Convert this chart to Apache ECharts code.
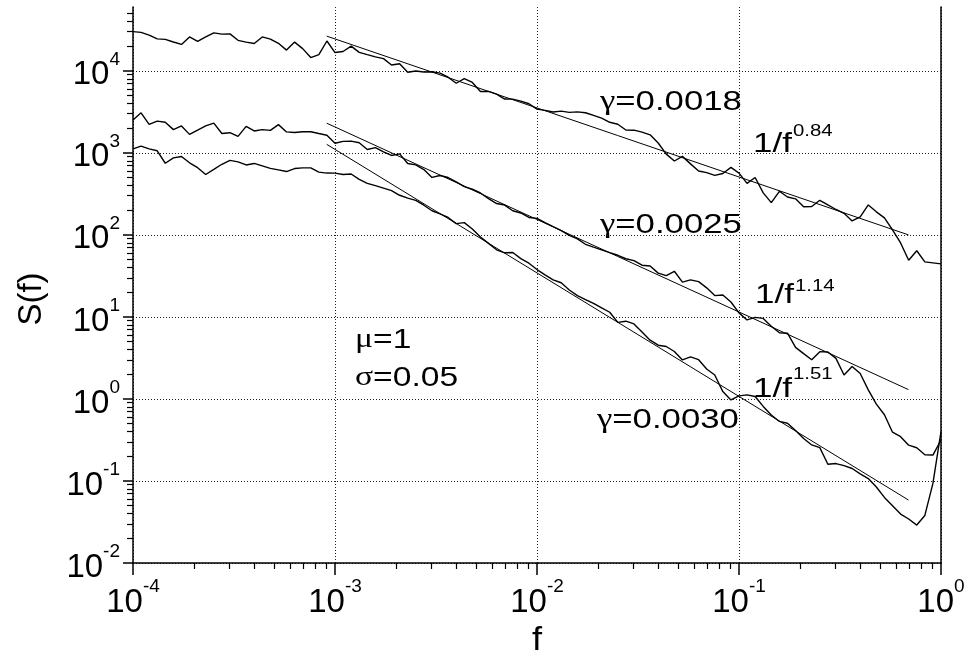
<!DOCTYPE html>
<html>
<head>
<meta charset="utf-8">
<script src="https://cdn.jsdelivr.net/npm/echarts@6/dist/echarts.min.js"></script>
<style>
  html, body { margin: 0; padding: 0; background: #fff; }
  #chart { width: 968px; height: 659px; }
</style>
</head>
<body>
<div id="chart"></div>
<script>
// frequency grid shared by the three spectra (0.04 decade steps)
const freq = [
  1.000e-4, 1.096e-4, 1.202e-4, 1.318e-4, 1.445e-4, 1.585e-4, 1.738e-4, 1.905e-4, 2.089e-4, 2.291e-4,
  2.512e-4, 2.754e-4, 3.020e-4, 3.311e-4, 3.631e-4, 3.981e-4, 4.365e-4, 4.786e-4, 5.248e-4, 5.754e-4,
  6.310e-4, 6.918e-4, 7.586e-4, 8.318e-4, 9.120e-4,
  1.000e-3, 1.096e-3, 1.202e-3, 1.318e-3, 1.445e-3, 1.585e-3, 1.738e-3, 1.905e-3, 2.089e-3, 2.291e-3,
  2.512e-3, 2.754e-3, 3.020e-3, 3.311e-3, 3.631e-3, 3.981e-3, 4.365e-3, 4.786e-3, 5.248e-3, 5.754e-3,
  6.310e-3, 6.918e-3, 7.586e-3, 8.318e-3, 9.120e-3,
  1.000e-2, 1.096e-2, 1.202e-2, 1.318e-2, 1.445e-2, 1.585e-2, 1.738e-2, 1.905e-2, 2.089e-2, 2.291e-2,
  2.512e-2, 2.754e-2, 3.020e-2, 3.311e-2, 3.631e-2, 3.981e-2, 4.365e-2, 4.786e-2, 5.248e-2, 5.754e-2,
  6.310e-2, 6.918e-2, 7.586e-2, 8.318e-2, 9.120e-2,
  1.000e-1, 1.096e-1, 1.202e-1, 1.318e-1, 1.445e-1, 1.585e-1, 1.738e-1, 1.905e-1, 2.089e-1, 2.291e-1,
  2.512e-1, 2.754e-1, 3.020e-1, 3.311e-1, 3.631e-1, 3.981e-1, 4.365e-1, 4.786e-1, 5.248e-1, 5.754e-1,
  6.310e-1, 6.918e-1, 7.586e-1, 8.318e-1, 9.120e-1,
  1.000
];

// gamma = 0.0018
const specA = [
  30100, 29400, 27300, 24550, 24200, 22450, 21000, 25900, 22900, 25900,
  29000, 28000, 28200, 23550, 22400, 21500, 25900, 24400, 21650, 17900,
  22400, 18650, 14500, 15750, 23100, 16700, 17200, 20000, 16800, 15750,
  14800, 14100, 11800, 12200, 9620, 9950, 9670, 9730, 9370, 8360,
  7060, 8050, 7220, 5600, 5620, 5210, 4530, 4520, 4280, 3970,
  3410, 3300, 3150, 3230, 3120, 3160, 3080, 2860, 2650, 2360,
  2230, 1900, 1890, 1790, 1660, 1320, 965, 796, 906, 734,
  600, 575, 532, 561, 665, 567, 424, 501, 325, 247,
  340, 290, 275, 220, 222, 264, 232, 204, 183, 148,
  166, 232, 191, 161, 115, 79.8, 49.1, 64.0, 46.9, 45.6,
  44.3
];

// gamma = 0.0025
const specB = [
  2520, 3080, 2230, 2440, 2360, 1920, 2130, 1680, 1890, 2130,
  2300, 1720, 1760, 1590, 2100, 1850, 1920, 1880, 2210, 1800,
  1770, 1810, 1810, 1720, 1640, 1310, 1380, 1390, 1330, 1100,
  1160, 1030, 930, 973, 743, 714, 626, 502, 530, 500,
  444, 387, 360, 324, 277, 241, 231, 197, 185, 163,
  159, 141, 126, 113, 98.6, 89.6, 76.8, 70.8, 65.6, 60.8,
  56.4, 51.2, 48.6, 42.7, 41.8, 34.2, 31.9, 36.0, 26.6, 28.3,
  26.9, 22.6, 18.2, 18.5, 15.2, 11.2, 9.19, 9.86, 9.59, 7.71,
  6.40, 6.33, 4.25, 3.57, 3.01, 3.77, 3.74, 3.12, 1.96, 2.49,
  2.04, 1.29, 0.865, 0.641, 0.393, 0.347, 0.273, 0.254, 0.209, 0.207,
  0.316
];

// gamma = 0.0030
const specC = [
  1120, 1210, 1120, 1060, 747, 869, 904, 757, 660, 545,
  629, 726, 811, 776, 712, 743, 694, 647, 621, 592,
  644, 656, 656, 583, 567, 566, 545, 553, 475, 425,
  398, 371, 346, 304, 281, 264, 230, 197, 180, 163,
  137, 141, 118, 94.2, 78.7, 65.8, 60.5, 61.0, 51.3, 45.2,
  37.8, 32.5, 28.3, 26.1, 21.3, 18.2, 16.3, 14.6, 12.9, 11.4,
  8.57, 8.87, 8.22, 6.56, 5.20, 4.52, 4.36, 3.79, 2.99, 3.25,
  3.01, 2.32, 1.96, 1.23, 0.973, 1.09, 1.12, 1.07, 0.811, 0.638,
  0.532, 0.506, 0.412, 0.329, 0.275, 0.255, 0.160, 0.163, 0.154, 0.142,
  0.122, 0.107, 0.0845, 0.0630, 0.0499, 0.0395, 0.0344, 0.0290, 0.0380, 0.0933,
  0.399
];

// power-law fits: end points
const fitFreq = [9.1e-4, 0.69];
const fitA = [26500, 100];   // 1/f^0.84
const fitB = [2300, 1.3];    // 1/f^1.14
const fitC = [1270, 0.0586]; // 1/f^1.51

// axis decades (exponents of 10)
const xDecades = [-4, -3, -2, -1, 0];
const yDecades = [-2, -1, 0, 1, 2, 3, 4];
const yTop = 60000;

const FONT = 'Liberation Sans, Arial, sans-serif';
const GREEK = 'Liberation Serif, serif';
const yMin = -2, yMax = Math.log10(yTop);

function minorTicks(from, to, top) {
  const out = [];
  for (let d = from; d < to; d++) {
    for (let m = 2; m <= 9; m++) {
      const v = d + Math.log10(m);
      if (v < top) out.push(v);
    }
  }
  return out;
}

const pow10Label = {
  formatter: (v) => '{b|10}{s|' + v + '}',
  rich: {
    b: { fontSize: 33, fontFamily: FONT, color: '#000', padding: [9, 0, 0, 0] },
    s: { fontSize: 19, fontFamily: FONT, color: '#000', verticalAlign: 'top' }
  }
};

const toPairs = (fs, ss) => fs.map((f, i) => [Math.log10(f), Math.log10(ss[i])]);

var chartDom = document.getElementById('chart');
var myChart = echarts.init(chartDom);

const lineSeries = (data, width) => ({
  type: 'line',
  data: data,
  showSymbol: false,
  silent: true,
  lineStyle: { color: '#000', width: width },
  xAxisIndex: 0,
  yAxisIndex: 0
});

const gridLine = { show: true, lineStyle: { color: '#222', width: 1, type: [1, 2] } };

// stretched text, like the original figure
const label = (x, y, text, size, sx, extra) => ({
  type: 'text', x: x, y: y, scaleX: sx,
  style: Object.assign({
    text: text, font: size + 'px ' + FONT, fill: '#000', verticalAlign: 'middle',
    rich: { g: { fontFamily: GREEK, fontSize: size } }
  }, extra || {})
});

var option = {
  animation: false,
  backgroundColor: '#fff',
  grid: { left: 133, right: 27, top: 7, bottom: 96, outerBoundsMode: 'none' },
  xAxis: [
    {
      type: 'value', min: -4, max: 0, interval: 1, position: 'bottom',
      axisLine: { onZero: false, lineStyle: { color: '#000', width: 1.5 } },
      axisTick: { length: 12, lineStyle: { color: '#000', width: 1.5 } },
      axisLabel: Object.assign({ margin: 14, customValues: xDecades }, pow10Label),
      splitLine: gridLine
    },
    {
      type: 'value', min: -4, max: 0, position: 'bottom',
      axisLine: { show: false, onZero: false },
      axisTick: { length: 6, customValues: minorTicks(-4, 0, 0), lineStyle: { color: '#000', width: 1.2 } },
      axisLabel: { show: false },
      splitLine: { show: false }
    }
  ],
  yAxis: [
    {
      type: 'value', min: yMin, max: yMax, position: 'left',
      axisLine: { onZero: false, lineStyle: { color: '#000', width: 1.5 } },
      axisTick: { length: 10, customValues: yDecades, lineStyle: { color: '#000', width: 1.5 } },
      axisLabel: Object.assign({ margin: 13, customValues: yDecades }, pow10Label),
      splitLine: gridLine
    },
    {
      type: 'value', min: yMin, max: yMax, position: 'left',
      axisLine: { show: false, onZero: false },
      axisTick: { length: 6, customValues: minorTicks(-2, 5, yMax), lineStyle: { color: '#000', width: 1.2 } },
      axisLabel: { show: false },
      splitLine: { show: false }
    },
    {
      type: 'value', min: yMin, max: yMax, position: 'right',
      axisLine: { show: true, onZero: false, lineStyle: { color: '#000', width: 1.5 } },
      axisTick: { show: false },
      axisLabel: { show: false },
      splitLine: { show: false }
    }
  ],
  series: [
    lineSeries(toPairs(freq, specA), 1.4),
    lineSeries(toPairs(freq, specB), 1.4),
    lineSeries(toPairs(freq, specC), 1.4),
    lineSeries(toPairs(fitFreq, fitA), 1),
    lineSeries(toPairs(fitFreq, fitB), 1),
    lineSeries(toPairs(fitFreq, fitC), 1)
  ],
  graphic: [
    // axis titles
    label(537, 641, 'f', 33, 1.1, { align: 'center' }),
    Object.assign(label(32, 299, 'S(f)', 33, 1, { align: 'center' }), { rotation: Math.PI / 2 }),
    // annotations
    label(600, 102, '{g|γ}=0.0018', 28, 1.24),
    label(600, 225, '{g|γ}=0.0025', 28, 1.24),
    label(597, 420, '{g|γ}=0.0030', 28, 1.24),
    label(355, 340, '{g|μ}=1', 28, 1.2),
    label(355, 378, '{g|σ}=0.05', 28, 1.2),
    label(753, 144, '1/f', 28, 1.25),
    label(793, 131, '0.84', 17, 1.2),
    label(755, 295, '1/f', 28, 1.25),
    label(795, 286, '1.14', 17, 1.2),
    label(753, 389, '1/f', 28, 1.25),
    label(793, 374, '1.51', 17, 1.2)
  ]
};

myChart.setOption(option);
</script>
</body>
</html>
